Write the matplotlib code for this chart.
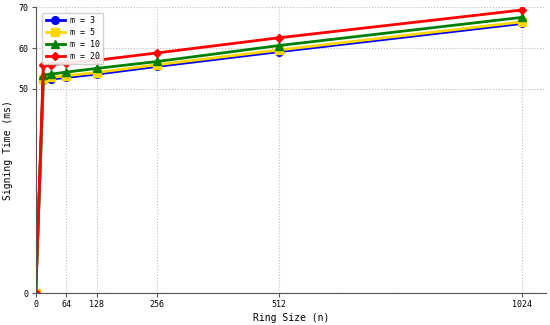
import matplotlib.pyplot as plt

ring_sizes = [0, 16, 32, 64, 128, 256, 512, 1024]
m3 = [0, 52.1, 52.4, 52.8, 53.6, 55.5, 59.1, 66.0]
m5 = [0, 52.5, 52.8, 53.2, 54.0, 55.9, 59.5, 66.4]
m10 = [0, 53.4, 53.6, 54.1, 55.0, 56.7, 60.6, 67.5]
m20 = [0, 55.8, 55.9, 56.3, 57.0, 58.8, 62.5, 69.3]

x_ticks = [0, 64, 128, 256, 512, 1024]
y_ticks = [0, 50, 60, 70]

series = [
    (m3, 'm = 3', 'blue', 'o'),
    (m5, 'm = 5', 'gold', 's'),
    (m10, 'm = 10', 'green', '^'),
    (m20, 'm = 20', 'red', 'D'),
]

plt.rcParams['font.family'] = 'DejaVu Sans Mono'

fig = plt.figure(figsize=(5.5, 3.25), dpi=100)
ax = fig.add_axes([0.065, 0.098, 0.928, 0.88])

for vals, label, color, marker in series:
    ms = 4.5 if marker == 'D' else 5.5
    ax.plot(ring_sizes, vals, color=color, marker=marker, markersize=ms,
            linewidth=2, label=label)

ax.set_xlim(0, 1075)
ax.set_ylim(0, 70)
ax.set_xticks(x_ticks)
ax.set_yticks(y_ticks)
ax.tick_params(labelsize=6, length=3, color='#555555', pad=2)
ax.set_xlabel('Ring Size (n)', fontsize=7, labelpad=3)
ax.set_ylabel('Signing Time (ms)', fontsize=7, labelpad=4)
ax.grid(True, linestyle=':', color='#bbbbbb', linewidth=0.8)
ax.spines['top'].set_visible(False)
ax.spines['right'].set_visible(False)
ax.spines['left'].set_color('#555555')
ax.spines['bottom'].set_color('#555555')
ax.legend(loc='upper left', fontsize=6, handlelength=2.3, borderpad=0.4,
          labelspacing=0.35, handletextpad=0.6, framealpha=0.9,
          bbox_to_anchor=(0.005, 0.995))

plt.savefig('out.png', dpi=100)
